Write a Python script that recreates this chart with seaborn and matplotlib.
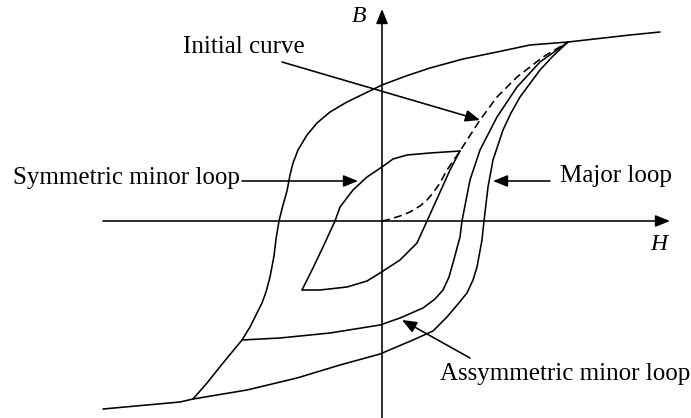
import matplotlib
matplotlib.use("Agg")
import matplotlib.pyplot as plt
from matplotlib.patches import ArrowStyle
import seaborn as sns
import pandas as pd

sns.set_theme(style="white")
plt.rcParams["font.family"] = ["Liberation Serif", "DejaVu Serif"]
plt.rcParams["text.color"] = "black"

# --- B-H curves (H horizontal, B vertical, arbitrary units) ---
major_desc_H = [1.86, 1.48, 1.15, 0.81, 0.48, 0.24, 0.00, -0.35, -0.52, -0.65, -0.75,
                -0.84, -0.89, -0.92, -0.95, -0.99, -1.03, -1.06, -1.08, -1.12, -1.16, -1.20,
                -1.32, -1.40, -1.59, -1.75, -1.89]
major_desc_B = [1.79, 1.76, 1.69, 1.62, 1.53, 1.45, 1.36, 1.19, 1.09, 0.98, 0.86,
                0.71, 0.58, 0.46, 0.30, 0.16, 0.00, -0.18, -0.35, -0.56, -0.71, -0.82,
                -1.06, -1.19, -1.42, -1.62, -1.78]

major_asc_H = [-1.89, -1.35, -0.85, -0.42, -0.02, 0.31, 0.51, 0.65, 0.76, 0.85, 0.91,
               0.95, 1.00, 1.02, 1.06, 1.11, 1.21, 1.29, 1.38, 1.58, 1.71, 1.86]
major_asc_B = [-1.78, -1.69, -1.57, -1.44, -1.33, -1.19, -1.10, -0.96, -0.83, -0.72, -0.59,
               -0.46, -0.19, 0.00, 0.34, 0.61, 0.91, 1.08, 1.24, 1.51, 1.65, 1.79]

upper_tail_H = [1.86, 2.48, 2.78]
upper_tail_B = [1.79, 1.86, 1.89]
lower_tail_H = [-1.89, -2.02, -2.79]
lower_tail_B = [-1.78, -1.81, -1.88]

asym_asc_H = [-1.40, -1.02, -0.52, -0.02, 0.18, 0.41, 0.53, 0.61, 0.67, 0.71, 0.78, 0.80,
              0.88, 0.98, 1.15, 1.35, 1.58, 1.86]
asym_asc_B = [-1.19, -1.17, -1.12, -1.04, -0.97, -0.87, -0.78, -0.69, -0.56, -0.42, -0.16, 0.00,
              0.41, 0.71, 1.04, 1.34, 1.59, 1.79]

sym_upper_H = [0.78, 0.48, 0.25, 0.11, 0.00, -0.15, -0.29, -0.42, -0.47, -0.59, -0.69, -0.80]
sym_upper_B = [0.70, 0.68, 0.66, 0.62, 0.54, 0.44, 0.31, 0.14, 0.00, -0.26, -0.47, -0.69]
sym_lower_H = [-0.80, -0.62, -0.35, -0.15, -0.02, 0.18, 0.35, 0.45, 0.50, 0.68, 0.78]
sym_lower_B = [-0.69, -0.69, -0.66, -0.60, -0.52, -0.39, -0.22, 0.00, 0.11, 0.51, 0.70]

initial_H = [0.00, 0.05, 0.18, 0.28, 0.38, 0.45, 0.51, 0.58, 0.65, 0.78, 0.98, 1.15, 1.35, 1.61, 1.86]
initial_B = [0.00, 0.01, 0.05, 0.09, 0.15, 0.21, 0.28, 0.38, 0.51, 0.70, 1.01, 1.24, 1.44, 1.64, 1.79]

# --- annotations ---
labels = ["Initial curve", "Symmetric minor loop", "Major loop", "Assymmetric minor loop"]
label_pos = [(-1.985, 1.68), (-3.69, 0.37), (1.78, 0.39), (0.58, -1.59)]
pointer_tail = [(-1.00, 1.59), (-1.40, 0.40), (1.68, 0.40), (0.88, -1.37)]
pointer_head = [(0.98, 1.01), (-0.24, 0.40), (1.11, 0.40), (0.20, -0.99)]

axis_names = ["B", "H"]
axis_name_pos = [(-0.30, 1.99), (2.68, -0.29)]

fig = plt.figure(figsize=(6.91, 4.18), dpi=100)
ax = fig.add_axes([0, 0, 1, 1])

lw = 1.15
solid = [
    (major_desc_H, major_desc_B),
    (major_asc_H, major_asc_B),
    (upper_tail_H, upper_tail_B),
    (lower_tail_H, lower_tail_B),
    (asym_asc_H, asym_asc_B),
    (sym_upper_H, sym_upper_B),
    (sym_lower_H, sym_lower_B),
]
for hs, bs in solid:
    df = pd.DataFrame({"H": hs, "B": bs})
    sns.lineplot(data=df, x="H", y="B", sort=False, estimator=None,
                 color="black", lw=lw, ax=ax)

df_init = pd.DataFrame({"H": initial_H, "B": initial_B})
sns.lineplot(data=df_init, x="H", y="B", sort=False, estimator=None,
             color="black", lw=lw, ax=ax, linestyle=(0, (5, 2.8)))

for line in ax.get_lines():
    line.set_solid_joinstyle("round")
    line.set_dash_joinstyle("round")

ax.set_xlim(-3.82, 3.09)
ax.set_ylim(-1.97, 2.21)
ax.set_axis_off()

head = ArrowStyle("-|>", head_length=0.42, head_width=0.17)
arrow_kw = dict(arrowstyle=head, color="black", lw=lw, shrinkA=0, shrinkB=0,
                mutation_scale=21)

# coordinate axes
ax.annotate("", xy=(2.88, 0), xytext=(-2.79, 0), arrowprops=arrow_kw)
ax.annotate("", xy=(0, 2.12), xytext=(0, -1.97), arrowprops=arrow_kw)

for name, (x, y) in zip(axis_names, axis_name_pos):
    ax.text(x, y, name, fontsize=17, style="italic", ha="left", va="baseline",
            color="black")

for text, (x, y), tail, tip in zip(labels, label_pos, pointer_tail, pointer_head):
    ax.text(x, y, text, fontsize=18, ha="left", va="baseline", color="black")
    ax.annotate("", xy=tip, xytext=tail, arrowprops=arrow_kw)

fig.savefig("out.png", dpi=100)
